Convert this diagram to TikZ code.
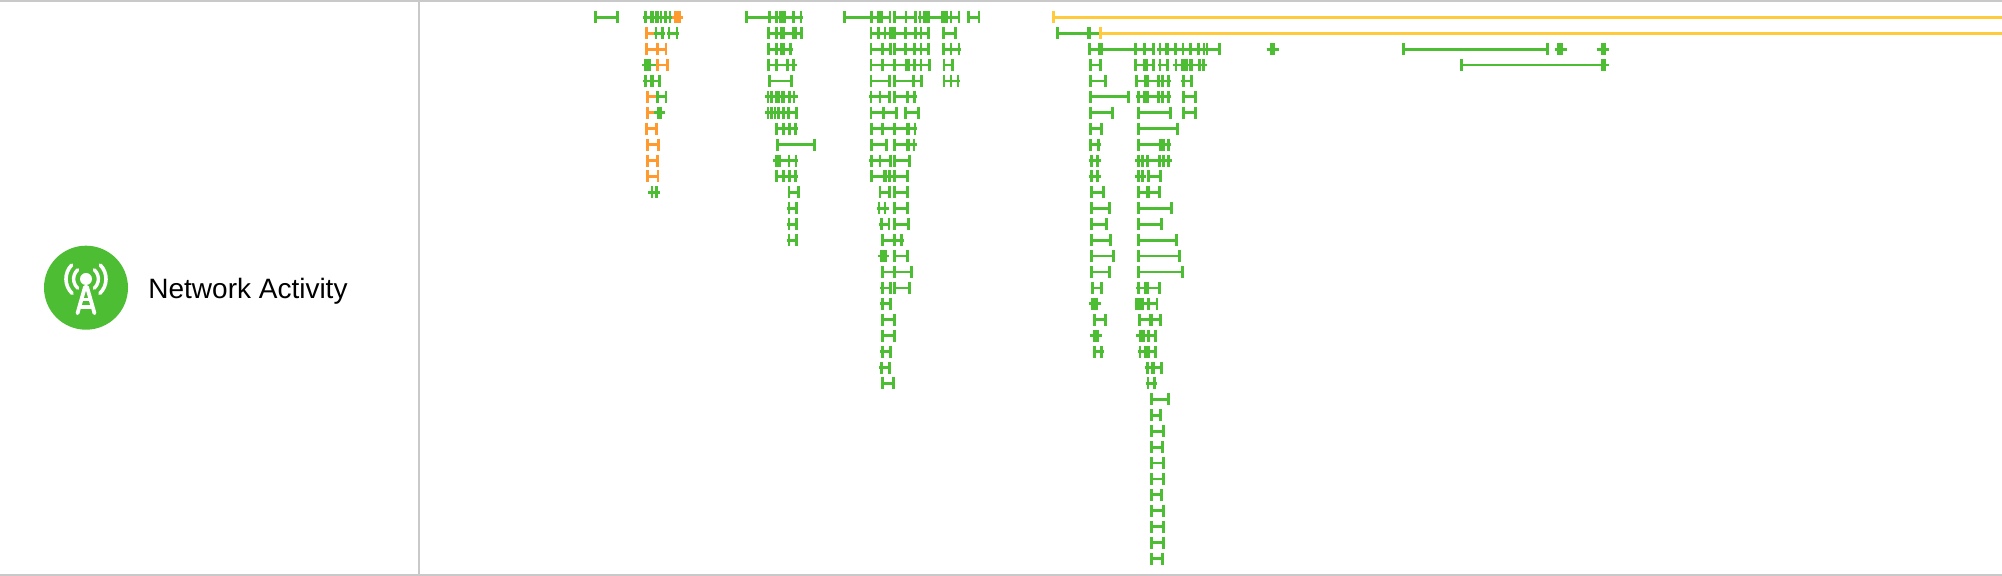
\documentclass[tikz,border=0pt]{standalone}
\usepackage{fontspec}
\setmainfont{Liberation Sans}
\definecolor{netgreen}{HTML}{4DBD33}
\definecolor{netorange}{HTML}{FF9A2E}
\definecolor{netyellow}{HTML}{FFCB3D}
\definecolor{rulegray}{HTML}{C9C9C9}
\tikzset{
  spanline/.style={line width=1.4pt,line cap=butt},
  rulebar/.style={line width=1pt,color=rulegray},
  iconstroke/.style={white,line cap=round,line join=round},
}
\def\Off{0}
\newcommand{\tb}[5]{%
  \pgfmathsetmacro{\yy}{17.3+15.92*#1}%
  \pgfmathsetmacro{\xl}{\Off+#3/3}%
  \pgfmathsetmacro{\xr}{\Off+#4/3}%
  \draw[spanline,#2] (\xl,\yy) -- (\xr,\yy);%
  \foreach \t in {#5}{%
    \pgfmathsetmacro{\xt}{\Off+\t/3}%
    \draw[spanline,#2] (\xt,\yy-6) -- (\xt,\yy+6);%
  }%
}
\begin{document}
\begin{tikzpicture}[x=0.5pt,y=-0.5pt]
\useasboundingbox (0,0) rectangle (2002,576);
\fill[white] (0,0) rectangle (2002,576);
% frame
\draw[rulebar] (0,1) -- (2002,1);
\draw[rulebar] (0,575) -- (2002,575);
\draw[rulebar] (418.5,0) -- (418.5,576);
% icon
\fill[netgreen] (86,287.7) circle[radius=21pt];
\fill[white] (86,279) circle[radius=3pt];
\draw[iconstroke,line width=1.9pt] (77.5,313.3) -- (85,287) -- (87,287) -- (94.5,313.3);
\draw[iconstroke,line width=1.7pt] (81.5,299.5) -- (90.5,299.5);
\draw[iconstroke,line width=1.7pt] (80,307) -- (92,307);
\begin{scope}[shift={(86,279)}]
\draw[iconstroke,line width=1.8pt] (136:10pt) arc[start angle=136,end angle=226,radius=10pt];
\draw[iconstroke,line width=1.8pt] (44:10pt) arc[start angle=44,end angle=-46,radius=10pt];
\draw[iconstroke,line width=1.7pt] (132:6.2pt) arc[start angle=132,end angle=228,radius=6.2pt];
\draw[iconstroke,line width=1.7pt] (48:6.2pt) arc[start angle=48,end angle=-48,radius=6.2pt];
\end{scope}
\node[anchor=base west,inner sep=0pt,font=\fontsize{14pt}{16pt}\selectfont] (label) at (148,299) {Network Activity};
% column A + B
\def\Off{580}
\tb{0}{netgreen}{44}{115}{46,112}
\tb{0}{netgreen}{190}{285}{197,213,218,228,233,243,256,270}
\tb{0}{netorange}{275}{310}{285,292,299}
\tb{1}{netorange}{197}{222}{199}
\tb{1}{netgreen}{222}{254}{228,248}
\tb{1}{netgreen}{262}{298}{267,291}
\tb{2}{netorange}{197}{262}{199,232,258}
\tb{3}{netgreen}{187}{228}{197,204,210}
\tb{3}{netorange}{228}{265}{232,262}
\tb{4}{netgreen}{190}{244}{197,215,219,238}
\tb{5}{netorange}{199}{228}{202}
\tb{5}{netgreen}{228}{262}{232,258}
\tb{6}{netorange}{199}{222}{202}
\tb{6}{netgreen}{222}{256}{235,239,243}
\tb{7}{netorange}{197}{233}{200,230}
\tb{8}{netorange}{199}{240}{202,236}
\tb{9}{netorange}{199}{236}{202,233}
\tb{10}{netorange}{199}{236}{202,234}
\tb{11}{netgreen}{205}{241}{216,230}
\tb{0}{netgreen}{496}{668}{499,568,590,600,605,610,615,640,663}
\tb{1}{netgreen}{560}{670}{566,590,604,612,640,648,664}
\tb{2}{netgreen}{560}{640}{566,590,604,612,632}
\tb{3}{netgreen}{560}{650}{566,590,622,640}
\tb{4}{netgreen}{565}{637}{568,634}
\tb{5}{netgreen}{556}{655}{564,575,590,596,606,612,628,642}
\tb{6}{netgreen}{556}{655}{564,575,585,595,610,625,650}
\tb{7}{netgreen}{584}{655}{590,610,628,646}
\tb{8}{netgreen}{590}{706}{593,703}
\tb{9}{netgreen}{580}{655}{590,598,627,648}
\tb{10}{netgreen}{584}{655}{590,610,628,646}
\tb{11}{netgreen}{624}{658}{627,655}
\tb{12}{netgreen}{620}{655}{627,650}
\tb{13}{netgreen}{620}{655}{627,650}
\tb{14}{netgreen}{620}{655}{627,650}
% column C
\def\Off{740}
\tb{0}{netgreen}{312}{452}{314,395,415,420,425,450}
\tb{0}{netgreen}{460}{530}{463,498,527}
\tb{0}{netgreen}{535}{660}{540,553,560,566,607,613,620,633,657}
\tb{0}{netgreen}{683}{720}{686,717}
\tb{1}{netgreen}{390}{455}{393,415,435,450,455}
\tb{1}{netgreen}{455}{570}{463,497,527,543,566}
\tb{1}{netgreen}{608}{650}{610,647}
\tb{2}{netgreen}{392}{455}{393,427,452}
\tb{2}{netgreen}{460}{570}{463,497,523,543,566}
\tb{2}{netgreen}{605}{664}{610,633,657}
\tb{3}{netgreen}{392}{572}{393,427,463,498,505,523,543,568}
\tb{3}{netgreen}{608}{643}{612,638}
\tb{4}{netgreen}{392}{452}{393,449}
\tb{4}{netgreen}{460}{550}{463,520,545}
\tb{4}{netgreen}{608}{660}{612,633,654}
\tb{5}{netgreen}{388}{452}{393,420,449}
\tb{5}{netgreen}{460}{532}{463,502,523}
\tb{6}{netgreen}{392}{473}{393,430,470}
\tb{6}{netgreen}{494}{538}{496,535}
\def\Off{840}
\tb{7}{netgreen}{92}{232}{95,127,163,202,207,225}
\tb{8}{netgreen}{92}{142}{95,139}
\tb{8}{netgreen}{160}{232}{163,202,207,222}
\tb{9}{netgreen}{88}{155}{95,120,152}
\tb{9}{netgreen}{160}{212}{163,209}
\tb{10}{netgreen}{92}{205}{95,132,137,149,163,203}
\tb{11}{netgreen}{118}{152}{120,149}
\tb{11}{netgreen}{160}{205}{163,203}
\tb{12}{netgreen}{110}{146}{117,135}
\tb{12}{netgreen}{160}{205}{163,203}
\tb{13}{netgreen}{116}{151}{124,147}
\tb{13}{netgreen}{160}{208}{163,205}
\tb{14}{netgreen}{126}{192}{127,163,185}
\def\Off{850}
\tb{15}{netgreen}{84}{118}{94,100,106}
\tb{15}{netgreen}{130}{176}{133,173}
\tb{16}{netgreen}{94}{187}{97,133,185}
\tb{17}{netgreen}{91}{125}{97,122}
\tb{17}{netgreen}{130}{180}{133,178}
\tb{18}{netgreen}{91}{127}{97,122}
\tb{19}{netgreen}{95}{136}{97,134}
\tb{20}{netgreen}{95}{136}{97,134}
\tb{21}{netgreen}{91}{127}{97,122}
\tb{22}{netgreen}{88}{124}{94,118}
\tb{23}{netgreen}{95}{133}{97,131}
% column D
\def\Off{1040}
\tb{0}{netyellow}{38}{2886}{40}
\tb{1}{netgreen}{50}{180}{52,145,149}
\tb{1}{netyellow}{180}{2886}{182}
\tb{2}{netgreen}{145}{345}{148,178,186,286,313,340}
\tb{2}{netgreen}{352}{541}{360,378,384,407,429,451,475,492,501,538}
\tb{2}{netgreen}{680}{716}{693,702}
\tb{3}{netgreen}{148}{185}{151,182}
\tb{3}{netgreen}{283}{345}{286,313,320,340}
\tb{3}{netgreen}{355}{388}{360,382}
\tb{3}{netgreen}{400}{500}{408,428,434,440,450,456,478,491}
\tb{4}{netgreen}{148}{200}{151,197}
\tb{4}{netgreen}{284}{393}{289,315,322,355,367,386}
\tb{4}{netgreen}{424}{460}{430,455}
\tb{5}{netgreen}{148}{270}{151,266}
\tb{5}{netgreen}{287}{393}{296,313,322,355,367,386}
\tb{5}{netgreen}{427}{470}{430,467}
\tb{6}{netgreen}{148}{220}{151,217}
\tb{6}{netgreen}{292}{395}{295,392}
\tb{6}{netgreen}{427}{470}{430,467}
\def\Off{1060}
\tb{7}{netgreen}{88}{128}{91,125}
\tb{7}{netgreen}{233}{355}{235,352}
\tb{8}{netgreen}{86}{122}{91,116}
\tb{8}{netgreen}{233}{333}{235,301,310,325}
\tb{9}{netgreen}{86}{122}{94,112}
\tb{9}{netgreen}{224}{337}{235,247,262,298,310,325}
\tb{10}{netgreen}{86}{122}{94,112}
\tb{10}{netgreen}{224}{258}{235,247}
\tb{10}{netgreen}{262}{304}{265,301}
\tb{11}{netgreen}{92}{133}{94,131}
\tb{11}{netgreen}{230}{301}{235,262,266,298}
\tb{12}{netgreen}{92}{151}{94,149}
\tb{12}{netgreen}{233}{336}{235,334}
\tb{13}{netgreen}{92}{142}{94,140}
\tb{13}{netgreen}{233}{306}{235,304}
\tb{14}{netgreen}{92}{154}{94,152}
\tb{14}{netgreen}{233}{351}{235,349}
\tb{15}{netgreen}{92}{163}{94,161}
\tb{15}{netgreen}{233}{361}{235,359}
\tb{16}{netgreen}{92}{151}{94,149}
\tb{16}{netgreen}{233}{370}{235,368}
\tb{17}{netgreen}{92}{128}{97,125}
\tb{17}{netgreen}{227}{301}{235,256,263,298}
\tb{18}{netgreen}{88}{124}{97,103,109}
\tb{18}{netgreen}{224}{295}{230,238,247,265,291}
\tb{19}{netgreen}{101}{139}{103,137}
\tb{19}{netgreen}{236}{304}{238,270,274,302}
\tb{20}{netgreen}{91}{127}{103,108,113}
\tb{20}{netgreen}{227}{292}{241,246,250,265,286}
\tb{21}{netgreen}{98}{133}{103,124}
\tb{21}{netgreen}{233}{292}{240,257,261,265,286}
\tb{22}{netgreen}{256}{310}{262,277,282,305}
\tb{23}{netgreen}{257}{292}{264,283}
\tb{24}{netgreen}{272}{328}{274,326}
\tb{25}{netgreen}{272}{307}{274,301}
\tb{26}{netgreen}{272}{313}{274,311}
\tb{27}{netgreen}{272}{310}{274,308}
\tb{28}{netgreen}{272}{313}{274,311}
\tb{29}{netgreen}{272}{313}{274,311}
\tb{30}{netgreen}{272}{307}{274,305}
\tb{31}{netgreen}{272}{313}{274,311}
\tb{32}{netgreen}{272}{313}{274,311}
\tb{33}{netgreen}{272}{313}{274,311}
\tb{34}{netgreen}{272}{310}{274,308}
% far right
\def\Off{1240}
\tb{2}{netgreen}{80}{116}{94,102}
\tb{2}{netgreen}{488}{924}{490,922}
\tb{2}{netgreen}{944}{980}{954,960,966}
\tb{2}{netgreen}{1072}{1108}{1086,1094}
\tb{3}{netgreen}{662}{1108}{664,1086,1094}
\end{tikzpicture}
\end{document}
